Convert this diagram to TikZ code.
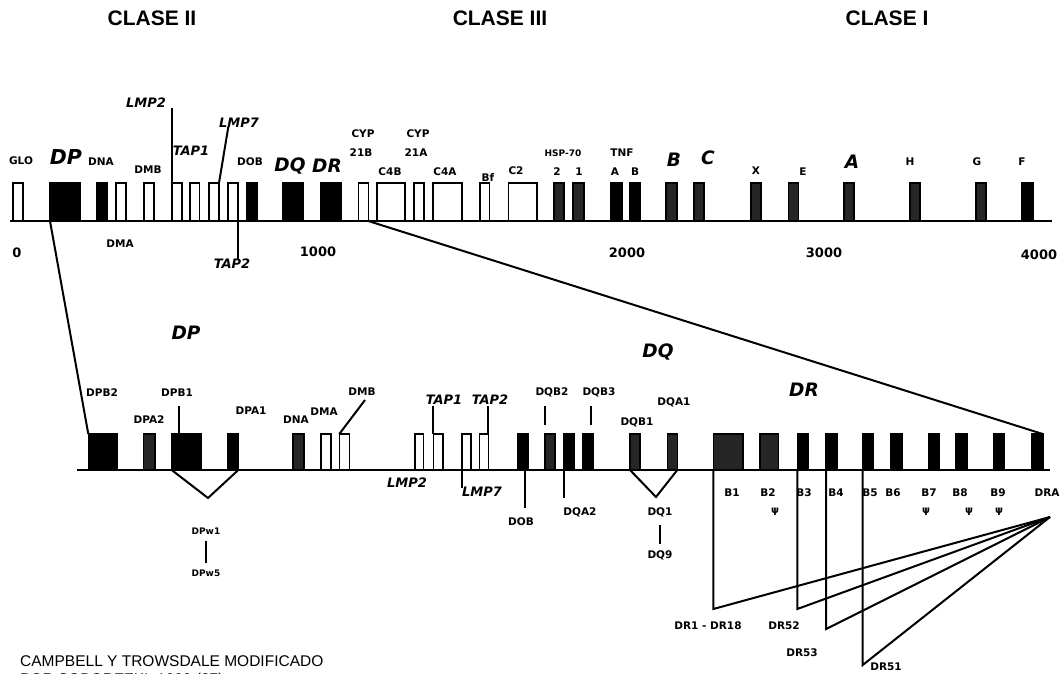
\documentclass[tikz,border=0pt]{standalone}
\usepackage{fontspec}
\setmainfont{DejaVu Sans}
\newfontfamily\lib{Liberation Sans}
\usetikzlibrary{calc}
\begin{document}
\begin{tikzpicture}[x=1pt,y=-1pt,
  wb/.style={draw=black, fill=white, line width=1.6pt, inner sep=0pt, outer sep=0pt},
  bb/.style={draw=black, fill=black, line width=1.6pt, inner sep=0pt, outer sep=0pt},
  gb/.style={draw=black, fill=black!85, line width=1.6pt, inner sep=0pt, outer sep=0pt},
  base/.style={line width=2.3pt},
  ln/.style={line width=2pt},
  lab/.style={font=\bfseries\fontsize{10.5}{12}\selectfont, inner sep=0pt},
  sml/.style={font=\bfseries\fontsize{9}{10}\selectfont, inner sep=0pt},
  num/.style={font=\bfseries\fontsize{13}{15}\selectfont, inner sep=0pt},
  itl/.style={font=\bfseries\itshape\fontsize{13}{15}\selectfont, inner sep=0pt},
  bigm/.style={font=\bfseries\itshape\fontsize{18.5}{20}\selectfont, inner sep=0pt},
  bigt/.style={font=\bfseries\itshape\fontsize{20.5}{22}\selectfont, inner sep=0pt},
  clase/.style={font=\lib\bfseries\fontsize{21}{23}\selectfont, inner sep=0pt},
  captxt/.style={font=\lib\fontsize{15.5}{17}\selectfont, inner sep=0pt, anchor=west},
  psi/.style={font=\bfseries\fontsize{10}{11}\selectfont, inner sep=0pt}
]
\fill[white] (0,0) rectangle (1060,674);
\useasboundingbox (0,0) rectangle (1060,674);

% ---------- headers
\node[clase] (h2) at (152,18) {CLASE II};
\node[clase] (h3) at (500,18) {CLASE III};
\node[clase] (h1) at (887,18) {CLASE I};

% ---------- top row boxes
\foreach \n/\x/\w/\s in {glo/12.7/10/wb, dp/50/30/bb, dna/96.7/10.6/bb, dma/116/10/wb, dmb/144/10/wb, lmp2/172/10/wb, tap1/190/9.5/wb, lmp7/209/10/wb, tap2/228/10/wb, dob/246.7/10/bb, dq/283/20/bb, dr/320.7/20/bb, cyp21b/358.3/10/wb, c4b/376.7/28.3/wb, cyp21a/414/10/wb, c4a/432.7/29/wb, bf/480/9.3/wb, c2/508.3/28.4/wb, hsp2/554/10/gb, hsp1/572.7/11.3/gb, tnfa/610.7/11/bb, tnfb/629.3/10.7/bb, b/666/10.7/gb, c/694/10/gb, x/750.7/10/gb, e/788.3/10/gb, a/844/10/gb, h/910/10/gb, g/976/10/gb, f/1021.7/11/bb}
  \node[\s, minimum width=\w pt, minimum height=38pt, anchor=south west] (t-\n) at (\x,221) {};
\coordinate (tl) at (10,221);
\coordinate (tr) at (1052,221);
\draw[base] (tl) -- (tr);

% ---------- top row labels
\node[lab] (l-glo) at (21,161) {GLO};
\node[bigt] (l-dp) at (66,157) {DP};
\node[lab] (l-dna) at (101,162) {DNA};
\node[lab] (l-dmb) at (148,170) {DMB};
\node[lab] (l-dma) at (120,244) {DMA};
\node[itl] (l-lmp2) at (146,103) {LMP2};
\node[itl] (l-tap1) at (191,151) {TAP1};
\node[itl] (l-lmp7) at (239,123) {LMP7};
\node[itl] (l-tap2) at (232,264) {TAP2};
\node[lab] (l-dob) at (250,162) {DOB};
\node[bigm] (l-dq) at (290,166) {DQ};
\node[bigm] (l-dr) at (327,166) {DR};
\node[lab] (l-cyp1) at (363,134) {CYP};
\node[lab] (l-21b) at (361,153) {21B};
\node[lab] (l-cyp2) at (418,134) {CYP};
\node[lab] (l-21a) at (416,153) {21A};
\node[lab] (l-c4b) at (390,172) {C4B};
\node[lab] (l-c4a) at (445,172) {C4A};
\node[lab] (l-bf) at (488,178) {Bf};
\node[lab] (l-c2) at (516,171) {C2};
\node[sml] (l-hsp) at (563,153) {HSP-70};
\node[lab] (l-h2) at (557,172) {2};
\node[lab] (l-h1) at (579,172) {1};
\node[lab] (l-tnf) at (622,153) {TNF};
\node[lab] (l-ta) at (615,172) {A};
\node[lab] (l-tb) at (635,172) {B};
\node[bigm] (l-B) at (674,160) {B};
\node[bigm] (l-C) at (708,158) {C};
\node[lab] (l-X) at (756,171) {X};
\node[lab] (l-E) at (803,172) {E};
\node[bigm] (l-A) at (852,162) {A};
\node[lab] (l-H) at (910,162) {H};
\node[lab] (l-G) at (977,162) {G};
\node[lab] (l-F) at (1022,162) {F};

\node[num] (n0) at (17,253) {0};
\node[num] (n1) at (318,252) {1000};
\node[num] (n2) at (627,253) {2000};
\node[num] (n3) at (824,253) {3000};
\node[num] (n4) at (1039,255) {4000};

% ---------- top row connectors
\draw[ln] (t-lmp2.north west) -- (t-lmp2.north west |- l-lmp2.south);
\coordinate (lmp7top) at (228.3,127);
\draw[ln] (t-lmp7.north east) -- (lmp7top);
\draw[ln] (t-tap2.south east) -- (t-tap2.south east |- l-tap2.north);

% ---------- bottom row boxes
\foreach \n/\x/\w/\s in {dpb2/88.3/28.4/bb, dpa2/143.3/11.7/gb, dpb1/171.7/29/bb, dpa1/227.3/11/bb, bdna/292.7/11.3/gb, bdma/320.7/10/wb, bdmb/339.3/10/wb, blmp2/415/8.3/wb, btap1/433.3/9.4/wb, blmp7/461.7/9/wb, btap2/479.3/9/wb, bdob/517.3/11/bb, dqb2/545/10/gb, dqa2/564/10/bb, dqb3/582.7/10/bb, dqb1/630/10/gb, dqa1/667.3/10/gb, b1/713.3/29.4/gb, b2/760/18.3/gb, b3/797.3/11/bb, b4/826/10.7/bb, b5/862.7/10.6/bb, b6/890.7/11/bb, b7/928.3/11/bb, b8/956/10.7/bb, b9/993.3/10.7/bb, dra/1031.7/11/bb}
  \node[\s, minimum width=\w pt, minimum height=36pt, anchor=south west] (u-\n) at (\x,470) {};
\coordinate (bl) at (77,470);
\coordinate (br) at (1050,470);
\draw[base] (bl) -- (br);

% ---------- zoom lines
\draw[ln] (t-dp.south west) -- (u-dpb2.north west);
\draw[ln] (t-cyp21b.south east) -- (u-dra.north east);

% ---------- bottom labels
\node[bigm] (m-dp) at (186,333) {DP};
\node[bigm] (m-dq) at (658,352) {DQ};
\node[bigm] (m-dr) at (804,390) {DR};
\node[lab] (l-dpb2) at (102,393) {DPB2};
\node[lab] (l-dpa2) at (149,420) {DPA2};
\node[lab] (l-dpb1) at (177,393) {DPB1};
\node[lab] (l-dpa1) at (251,411) {DPA1};
\node[lab] (l-bdna) at (296,420) {DNA};
\node[lab] (l-bdma) at (324,412) {DMA};
\node[lab] (l-bdmb) at (362,392) {DMB};
\node[itl] (l-btap1) at (444,400) {TAP1};
\node[itl] (l-btap2) at (490,400) {TAP2};
\node[itl] (l-blmp2) at (407,483) {LMP2};
\node[itl] (l-blmp7) at (482,492) {LMP7};
\node[lab] (l-bdob) at (521,522) {DOB};
\node[lab] (l-dqb2) at (552,392) {DQB2};
\node[lab] (l-dqb3) at (599,392) {DQB3};
\node[lab] (l-dqa2) at (580,512) {DQA2};
\node[lab] (l-dqb1) at (637,422) {DQB1};
\node[lab] (l-dqa1) at (674,402) {DQA1};
\node[lab] (l-dq1) at (660,512) {DQ1};
\node[lab] (l-dq9) at (660,555) {DQ9};
\node[sml] (l-dpw1) at (206,531) {DPw1};
\node[sml] (l-dpw5) at (206,573) {DPw5};
\foreach \n/\x in {B1/732, B2/768, B3/804, B4/836, B5/870, B6/893, B7/929, B8/960, B9/998, DRA/1047}
  \node[lab] (l-\n) at (\x,493) {\n};
\foreach \i/\x in {1/775, 2/926, 3/969, 4/999}
  \node[psi] (psi\i) at (\x,512) {ψ};
\node[lab] (l-dr118) at (708,626) {DR1 - DR18};
\node[lab] (l-dr52) at (784,626) {DR52};
\node[lab] (l-dr53) at (802,653) {DR53};
\node[lab] (l-dr51) at (886,667) {DR51};

% ---------- bottom connectors
\draw[ln] ([xshift=7.6pt]u-dpb1.north west) -- ++(0,-28);
\coordinate (dmbtop) at (365,400);
\draw[ln] (u-bdmb.north west) -- (dmbtop);
\coordinate (vdp) at (208,498);
\draw[ln] (u-dpb1.south west) -- (vdp) -- (u-dpa1.south east);
\draw[ln, shorten <=7pt, shorten >=6pt] (l-dpw1) -- (l-dpw5);
\draw[ln] (u-btap1.north west) -- ++(0,-28);
\draw[ln] (u-btap2.north east) -- ++(0,-28);
\draw[ln] (u-blmp7.south west) -- ++(0,18);
\draw[ln] ([xshift=2pt]u-bdob.south) -- ++(0,38);
\draw[ln] ([yshift=9pt]u-dqb2.north west) -- ++(0,-19);
\draw[ln] ([xshift=8pt,yshift=9pt]u-dqb3.north west) -- ++(0,-19);
\draw[ln] (u-dqa2.south west) -- ++(0,28);
\coordinate (vdq) at (656,497);
\draw[ln] (u-dqb1.south west) -- (vdq) -- (u-dqa1.south east);
\draw[ln, shorten <=8pt, shorten >=6pt] (l-dq1) -- (l-dq9);
\coordinate (conv) at (1050,517);
\draw[ln] (u-b1.south west) -- ++(0,139) -- (conv);
\draw[ln] (u-b3.south west) -- ++(0,139) -- (conv);
\draw[ln] (u-b4.south west) -- ++(0,159) -- (conv);
\draw[ln] (u-b5.south west) -- ++(0,195) -- (conv);

% ---------- caption
\node[captxt] (cap1) at (20,661) {CAMPBELL Y TROWSDALE MODIFICADO};
\node[captxt] (cap2) at (20,680) {POR SOBOREZKI, 1999 (27)};
\end{tikzpicture}
\end{document}
